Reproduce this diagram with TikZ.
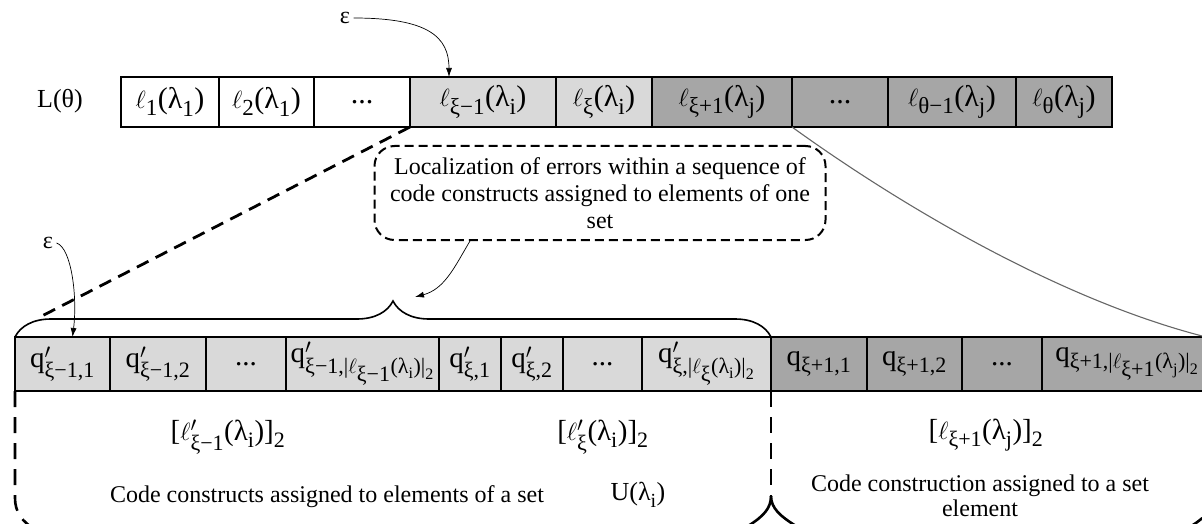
\documentclass[tikz,border=0pt]{standalone}
\usepackage{amsmath}
\usepackage{fontspec}
\setmainfont{Liberation Serif}
\usetikzlibrary{arrows.meta,decorations.pathreplacing}

\definecolor{lightcell}{HTML}{D9D9D9}
\definecolor{darkcell}{HTML}{A6A6A6}

\DeclareMathSizes{24}{24}{18}{14}
\DeclareMathSizes{26}{26}{20}{15}
\DeclareMathSizes{29}{29}{22}{16}
\DeclareMathSizes{30}{30}{23}{17}

\newcommand{\tx}[1]{\text{#1}}
\newcommand{\lcell}[2]{$\ell_{\tx{#1}}\tx{(λ}_{\tx{#2}}\tx{)}$}
\newcommand{\qcell}[2]{$\tx{q}#1_{\tx{#2}}$}
\newcommand{\qlong}[4]{$\tx{q}#1_{\tx{#2,|}\ell_{\scriptstyle\tx{#3}}\tx{(λ}_{\tx{#4}}\tx{)|}_{\tx{2}}}$}

\tikzset{
    cell/.style={draw, line width=1.1pt, anchor=west, minimum width=#1,
        inner sep=0pt, outer sep=0pt},
    topcell/.style={cell=#1, minimum height=50pt, font=\fontsize{30}{32}\selectfont},
    botcell/.style={cell=#1, minimum height=54pt, font=\fontsize{29}{32}\selectfont},
    note/.style={draw, line width=2pt, dash pattern=on 9pt off 5pt,
        rounded corners=20pt, minimum width=451pt, minimum height=94pt,
        align=center, font=\fontsize{24}{27}\selectfont},
    txt/.style={font=\fontsize{24}{25}\selectfont, align=center},
    bigdash/.style={line width=2.8pt, dash pattern=on 13pt off 8pt},
    bracket/.style={line width=2.6pt, dash pattern=on 16pt off 10pt},
    arr/.style={line width=0.7pt, -{Latex[length=9pt,width=6pt]}}
}

\begin{document}
\begin{tikzpicture}[x=1pt,y=-1pt]
\useasboundingbox (0,0) rectangle (1202,524);

% sequence L(theta)
\node[txt, font=\fontsize{26}{30}\selectfont] (ltheta) at (60,101) {L(θ)};
\node[topcell=98pt] (t1) at (121,102) {\lcell{1}{1}};
\node[topcell=95pt] (t2) at (219,102) {\lcell{2}{1}};
\node[topcell=96pt] (t3) at (314,102) {...};
\node[topcell=146pt, fill=lightcell] (t4) at (410,102) {\lcell{ξ−1}{i}};
\node[topcell=96pt, fill=lightcell] (t5) at (556,102) {\lcell{ξ}{i}};
\node[topcell=140pt, fill=darkcell] (t6) at (652,102) {\lcell{ξ+1}{j}};
\node[topcell=96pt, fill=darkcell] (t7) at (792,102) {...};
\node[topcell=128pt, fill=darkcell] (t8) at (888,102) {\lcell{θ−1}{j}};
\node[topcell=96pt, fill=darkcell] (t9) at (1016,102) {\lcell{θ}{j}};

\node[txt] (epstop) at (345,18) {ε};
\draw[arr] (epstop.east) .. controls +(75,0) and +(0,-40) .. ([xshift=-34pt]t4.north);

% code constructs
\node[botcell=95pt, fill=lightcell] (b1) at (15,364) {\qcell{'}{ξ−1,1}};
\node[botcell=96pt, fill=lightcell] (b2) at (110,364) {\qcell{'}{ξ−1,2}};
\node[botcell=80pt, fill=lightcell] (b3) at (206,364) {...};
\node[botcell=153pt, fill=lightcell] (b4) at (286,364) {\qlong{'}{ξ−1}{ξ−1}{i}};
\node[botcell=62pt, fill=lightcell] (b5) at (439,364) {\qcell{'}{ξ,1}};
\node[botcell=62pt, fill=lightcell] (b6) at (501,364) {\qcell{'}{ξ,2}};
\node[botcell=79pt, fill=lightcell] (b7) at (563,364) {...};
\node[botcell=129pt, fill=lightcell] (b8) at (642,364) {\qlong{'}{ξ}{ξ}{i}};
\node[botcell=96pt, fill=darkcell] (b9) at (771,364) {\qcell{}{ξ+1,1}};
\node[botcell=95pt, fill=darkcell] (b10) at (867,364) {\qcell{}{ξ+1,2}};
\node[botcell=80pt, fill=darkcell] (b11) at (962,364) {...};
\node[botcell=170pt, fill=darkcell] (b12) at (1042,364) {\qlong{}{ξ+1}{ξ+1}{j}};

% zoom lines
\coordinate (zoomL) at (38,318);
\coordinate (zoomR) at (1206,337);
\draw[bigdash] (t4.south west) -- (zoomL);
\draw[line width=2.4pt, dash pattern=on 12pt off 6pt] (b1.north west) -- (zoomR);
\draw[color=black!60, line width=1.1pt] (t7.south west) .. controls (900,205) and (1060,300) .. (zoomR);

\node[txt] (epsbot) at (48,243) {ε};
\draw[arr] (epsbot.east) .. controls +(15,5) and +(5,-40) .. ([xshift=10pt]b1.north);

% note and brace
\node[note] (note) at (600,193) {Localization of errors within a sequence of\\code constructs assigned to elements of one\\set};
\draw[line width=1.6pt, decorate, decoration={brace, amplitude=36pt}] (b1.north west) -- (b8.north east);
\coordinate (bracetip) at (393,301);
\draw[arr] ([xshift=-130pt]note.south) .. controls +(-15,25) and +(30,-8) .. ([shift={(22,-4)}]bracetip);

% sets
\node[txt, font=\fontsize{29}{32}\selectfont] (set1) at (228,437) {$\tx{[}\ell'_{\tx{ξ−1}}\tx{(λ}_{\tx{i}}\tx{)]}_{\tx{2}}$};
\node[txt, font=\fontsize{29}{32}\selectfont] (set2) at (603,437) {$\tx{[}\ell'_{\tx{ξ}}\tx{(λ}_{\tx{i}}\tx{)]}_{\tx{2}}$};
\node[txt, font=\fontsize{29}{32}\selectfont] (set3) at (986,435) {$\tx{[}\ell_{\tx{ξ+1}}\tx{(λ}_{\tx{j}}\tx{)]}_{\tx{2}}$};
\node[txt] (desc1) at (327,497) {Code constructs assigned to elements of a set};
\node[txt, font=\fontsize{26}{30}\selectfont] (uset) at (638,495) {U$\tx{(λ}_{\tx{i}}\tx{)}$};
\node[txt] (desc2) at (980,496) {Code construction assigned to a set\\element};

\draw[bracket] (b1.south west) -- (15,498) .. controls (15,512) and (22,522) .. (36,530);
\draw[bracket] (b8.south east) -- (771,496);
\draw[line width=2.6pt] (771,496) .. controls (771,508) and (764,516) .. (748,526);
\draw[line width=2.6pt] (771,496) .. controls (771,508) and (780,516) .. (796,526);
\draw[bracket] (b12.south east) -- (1212,498) .. controls (1212,510) and (1205,518) .. (1188,528);
\end{tikzpicture}
\end{document}
